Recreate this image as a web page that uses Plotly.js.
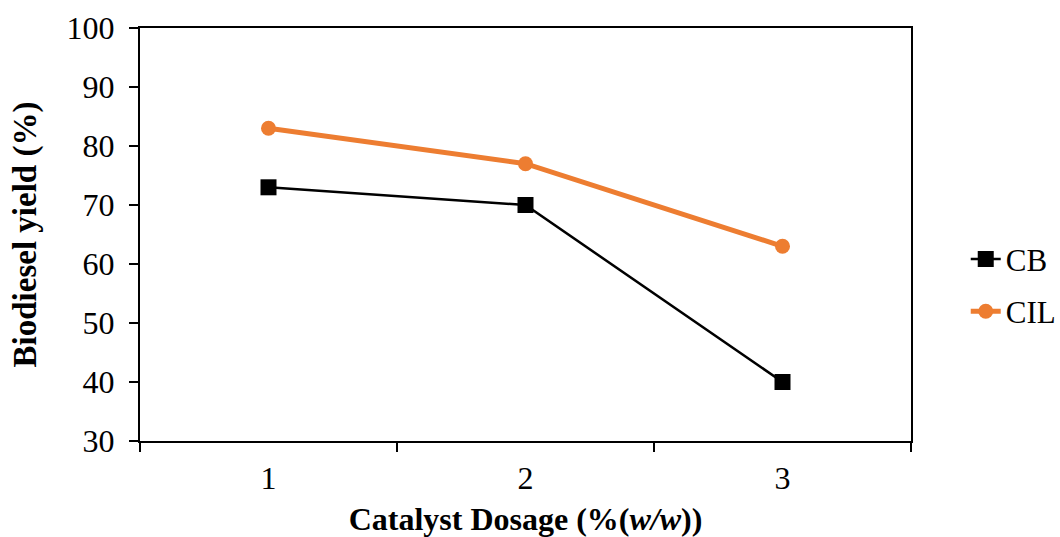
<!DOCTYPE html>
<html>
<head>
<meta charset="utf-8">
<script src="https://cdn.plot.ly/plotly-3.0.1.min.js"></script>
<style>
  html, body { margin: 0; padding: 0; background: #fff; }
  #chart { width: 1060px; height: 537px; }
</style>
</head>
<body>
<div id="chart"></div>
<script>
// Catalyst dosage levels (% w/w)
const dosage = ['1', '2', '3'];
// Biodiesel yield (%) for each catalyst
const yieldCB = [73, 70, 40];
const yieldCIL = [83, 77, 63];

const serif = 'Liberation Serif, Times New Roman, serif';

const traces = [
  {
    x: dosage, y: yieldCB, name: 'CB', legendgroup: 'cb', type: 'scatter', mode: 'lines+markers',
    line: { color: '#000000', width: 2.5 },
    marker: { symbol: 'square', size: 16, color: '#000000' }
  },
  {
    x: dosage, y: yieldCIL, name: 'CIL', legendgroup: 'cil', type: 'scatter', mode: 'lines+markers',
    line: { color: '#ED7D31', width: 5 },
    marker: { symbol: 'circle', size: 15, color: '#ED7D31' }
  }
];

const layout = {
  width: 1060, height: 537,
  margin: { l: 140, r: 149, t: 28, b: 96, autoexpand: false },
  paper_bgcolor: '#ffffff', plot_bgcolor: '#ffffff',
  font: { family: serif, size: 32, color: '#000000' },
  showlegend: true,
  legend: {
    x: 1.071, xanchor: 'left', y: 0.377, yanchor: 'middle',
    font: { family: serif, size: 31, color: '#000' },
    traceorder: 'grouped', tracegroupgap: 9, bgcolor: 'rgba(0,0,0,0)'
  },
  xaxis: {
    type: 'category', range: [-0.5, 2.5],
    showgrid: false, zeroline: false,
    showline: true, linecolor: '#000', linewidth: 2, mirror: true,
    ticks: 'outside', tickson: 'boundaries', ticklen: 9, tickwidth: 1.5, tickcolor: '#000',
    ticklabelstandoff: 8,
    tickfont: { family: serif, size: 32 },
    title: { text: '<b>Catalyst Dosage (%(<i>w/w</i>))</b>', font: { family: serif, size: 32 }, standoff: 12 }
  },
  yaxis: {
    range: [30, 100], dtick: 10, tick0: 30,
    showgrid: false, zeroline: false,
    showline: true, linecolor: '#000', linewidth: 2, mirror: true,
    ticks: 'outside', ticklen: 9, tickwidth: 1.5, tickcolor: '#000',
    ticklabelstandoff: 8,
    tickfont: { family: serif, size: 32 },
    title: { text: '<b>Biodiesel yield (%)</b>', font: { family: serif, size: 33 }, standoff: 20 }
  }
};

Plotly.newPlot('chart', traces, layout, { displayModeBar: false, staticPlot: true });
</script>
</body>
</html>
